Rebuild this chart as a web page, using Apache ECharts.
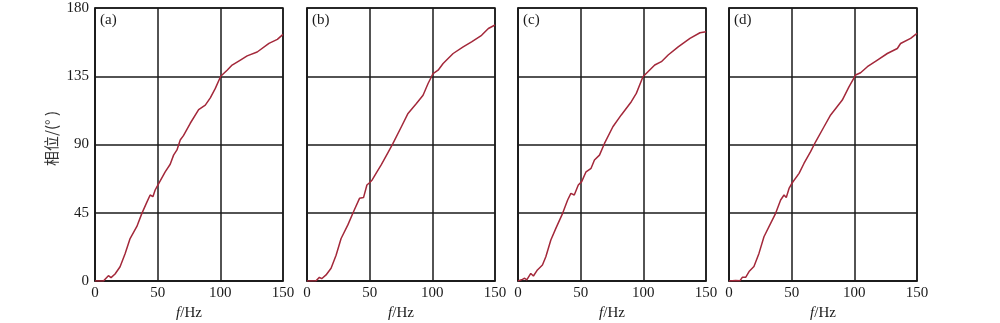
<!DOCTYPE html>
<html>
<head>
<meta charset="utf-8">
<script src="https://cdn.jsdelivr.net/npm/echarts@6/dist/echarts.min.js"></script>
<style>
  html, body { margin: 0; padding: 0; background: #fff; }
  #chart { width: 1000px; height: 323px; }
</style>
</head>
<body>
<div id="chart"></div>
<script>
// 频率 (Hz) 与相位 (°)，四个工况
const freqA = [0, 6.7, 10.7, 12.8, 16, 20, 24, 28, 33.4, 37.4, 41.4, 44, 46.2, 48, 50.7, 52, 56, 60, 62.7, 65.4, 68, 70.7, 76, 82.7, 88, 92, 96, 100.3, 105.4, 109.4, 116, 121.4, 129.4, 138.8, 145.5, 150];
const phaseA = [0, 0, 3.5, 2.2, 4.6, 9.4, 18, 28, 36, 44.6, 52, 56.7, 55.6, 60, 64, 64, 72, 77, 83, 86.4, 93, 96, 104, 113, 116, 120.7, 127, 135, 139, 142.4, 145.7, 148.4, 151, 156.7, 159.3, 162.6];

const freqB = [0, 7.2, 9.9, 11.7, 15.2, 19.2, 23.2, 27.2, 32.6, 37.1, 41.9, 43.3, 45.1, 47.8, 49.9, 52, 55.8, 59.2, 64.6, 68.6, 75.3, 80.6, 87.3, 92.6, 96.6, 100.6, 104.6, 108.6, 116.6, 124.6, 131.3, 139.3, 144.7, 150];
const phaseB = [0, 0.2, 2.4, 1.5, 4, 8.4, 17, 28, 37, 45.7, 54.5, 55.6, 55, 63.3, 64.8, 66.6, 72, 76.5, 84.6, 90.7, 101.7, 110.5, 117, 122.5, 130.2, 136.8, 139, 143.4, 150, 154.4, 157.7, 162, 166.5, 168.8];

const freqC = [0, 3.5, 5.3, 7, 10.2, 12.3, 15.5, 19.5, 22.2, 26.2, 30.2, 35.6, 39.6, 42.2, 44.9, 48.1, 50.8, 54.3, 58.3, 61, 65, 69, 75.7, 82.4, 90.4, 94.4, 99.7, 103.7, 109.1, 114.4, 119.8, 127.8, 137.2, 145.2, 150];
const phaseC = [0, 1.1, 1.8, 0.7, 5, 3.3, 7.3, 10.5, 16, 27, 34.7, 44.6, 53.4, 57.8, 56.7, 63.3, 65.5, 72, 74.3, 79.8, 83, 90.7, 101.7, 109.5, 118.2, 123.7, 134.7, 138, 142.4, 144.6, 149, 154.4, 160, 163.7, 164.4];

const freqD = [0, 5.3, 8.8, 10.6, 13.3, 16, 19.9, 23.9, 27.9, 33.2, 37.2, 41.2, 43.9, 45.7, 47.9, 50.5, 55.9, 59.8, 65.1, 69.1, 75.8, 81.1, 90.4, 95.7, 101, 105, 110.4, 118.4, 126.3, 134.3, 136.9, 144.9, 150];
const phaseD = [0, 0.4, 0.2, 2.4, 2.4, 6.2, 9.5, 18.2, 29.2, 38, 44.6, 53.4, 56.7, 55, 61, 64.8, 71, 77.5, 85.3, 91.8, 101.7, 109.5, 119.3, 128, 135.8, 137.3, 141.3, 145.7, 150, 153.3, 156.6, 160, 163.3];

const panelLabels = ['(a)', '(b)', '(c)', '(d)'];
const xTicks = [0, 50, 100, 150];
const yTicks = [0, 45, 90, 135, 180];

const panels = [[freqA, phaseA], [freqB, phaseB], [freqC, phaseC], [freqD, phaseD]];

const chart = echarts.init(document.getElementById('chart'));

const font = '"Liberation Serif", "Times New Roman", serif';
const ink = '#1a1a1a';
const lefts = [95, 307, 518, 729];
const plotW = 188;

const grids = [], xAxes = [], yAxes = [], series = [], graphics = [];

panels.forEach((p, i) => {
    grids.push({
        left: lefts[i], top: 8, width: plotW, height: 273,
        outerBoundsMode: 'none', containLabel: false,
        show: true, borderColor: ink, borderWidth: 1.5, backgroundColor: 'transparent'
    });
    xAxes.push({
        type: 'value', gridIndex: i,
        min: xTicks[0], max: xTicks[xTicks.length - 1], interval: 50,
        name: '{i|f}/Hz',
        nameLocation: 'middle', nameGap: 25,
        nameTextStyle: {
            fontFamily: font, fontSize: 15, color: ink,
            rich: { i: { fontFamily: font, fontSize: 15, fontStyle: 'italic', color: ink } }
        },
        axisLine: { show: true, lineStyle: { color: ink, width: 1.5 } },
        axisTick: { show: false },
        axisLabel: { fontFamily: font, fontSize: 15, color: ink, margin: 5 },
        splitLine: { show: true, lineStyle: { color: ink, width: 1.5 } }
    });
    yAxes.push({
        type: 'value', gridIndex: i,
        min: yTicks[0], max: yTicks[yTicks.length - 1], interval: 45,
        name: i === 0 ? '相位/(° )' : '',
        nameLocation: 'middle', nameGap: 36,
        nameTextStyle: { fontFamily: '"Noto Sans CJK SC", ' + font, fontSize: 15, color: '#333', padding: [0, 0, 0, 12] },
        axisLine: { show: true, lineStyle: { color: ink, width: 1.5 } },
        axisTick: { show: false },
        axisLabel: { show: i === 0, fontFamily: font, fontSize: 15, color: ink, margin: 6 },
        splitLine: { show: true, lineStyle: { color: ink, width: 1.5 } }
    });
    series.push({
        type: 'line', xAxisIndex: i, yAxisIndex: i,
        data: p[0].map((f, k) => [f, p[1][k]]),
        showSymbol: false, smooth: false,
        lineStyle: { color: '#a3283a', width: 1.5 },
        z: 5
    });
    graphics.push({
        type: 'text', left: lefts[i] + 5, top: 13,
        style: { text: panelLabels[i], font: '15px ' + font, fill: ink }
    });
});

chart.setOption({
    backgroundColor: '#fff',
    animation: false,
    grid: grids,
    xAxis: xAxes,
    yAxis: yAxes,
    series: series,
    graphic: graphics
});
</script>
</body>
</html>
